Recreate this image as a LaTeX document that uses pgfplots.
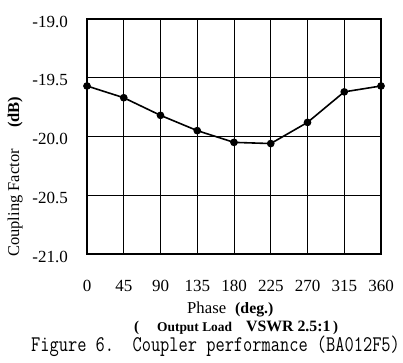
\documentclass[border=0pt]{standalone}
\usepackage{pgfplots}
\pgfplotsset{compat=1.18}
\usepackage{graphicx}
\usepackage{fontspec}
\setmainfont{Liberation Serif}
\begin{document}
\begin{tikzpicture}[x=1pt,y=1pt]
\path[use as bounding box] (0,0) rectangle (403,362);
\begin{axis}[
  at={(87pt,108pt)}, anchor=south west,
  scale only axis, width=294pt, height=235pt,
  xmin=0, xmax=360, ymin=-21, ymax=-19,
  xtick={0,45,...,360}, ytick={-21,-20.5,-20,-19.5,-19},
  /pgf/number format/assume math mode=true,
  yticklabel style={/pgf/number format/fixed,/pgf/number format/fixed zerofill,/pgf/number format/precision=1, font=\fontsize{17}{19}\selectfont, anchor=east, inner sep=0pt, xshift=-19pt, yshift=-2.5pt},
  xticklabel style={font=\fontsize{17}{19}\selectfont, anchor=base, inner sep=0pt, yshift=-37pt},
  major tick length=0pt,
  grid=major,
  major grid style={black, line width=0.9pt},
  axis line style={black, line width=2pt},
  clip=false,
]
\addplot[black, line width=1.6pt, mark=*, mark size=3pt, mark options={fill=black}]
coordinates {(0,-19.57) (45,-19.67) (90,-19.82) (135,-19.95) (180,-20.05) (225,-20.06) (270,-19.88) (315,-19.62) (360,-19.57)};
\end{axis}
\node[rotate=90, anchor=base west, inner sep=0pt, font=\fontsize{16.5}{18}\selectfont] at (19,105) {Coupling Factor};
\node[rotate=90, anchor=base west, inner sep=0pt, font=\fontsize{16.5}{18}\selectfont\bfseries] at (19,234) {(dB)};
\node[anchor=base west, inner sep=0pt, font=\fontsize{16.7}{18}\selectfont] at (187,49) {Phase};
\node[anchor=base west, inner sep=0pt, font=\fontsize{15.8}{18}\selectfont\bfseries] at (235,49) {(deg.)};
\node[anchor=base west, inner sep=0pt, font=\fontsize{15}{18}\selectfont\bfseries] at (134,31) {(};
\node[anchor=base west, inner sep=0pt, font=\fontsize{13.4}{16}\selectfont\bfseries] at (157,31) {Output Load};
\node[anchor=base west, inner sep=0pt, font=\fontsize{15.8}{18}\selectfont\bfseries] at (246,31) {VSWR 2.5:1};
\node[anchor=base west, inner sep=0pt, font=\fontsize{15}{18}\selectfont\bfseries] at (333,31) {)};
\node[anchor=base west, inner sep=0pt, font=\fontsize{17.9}{19}\ttfamily] at (31,11) {\scalebox{1}[1.25]{Figure 6.\ \ Coupler performance (BA012F5)}};
\end{tikzpicture}
\end{document}
